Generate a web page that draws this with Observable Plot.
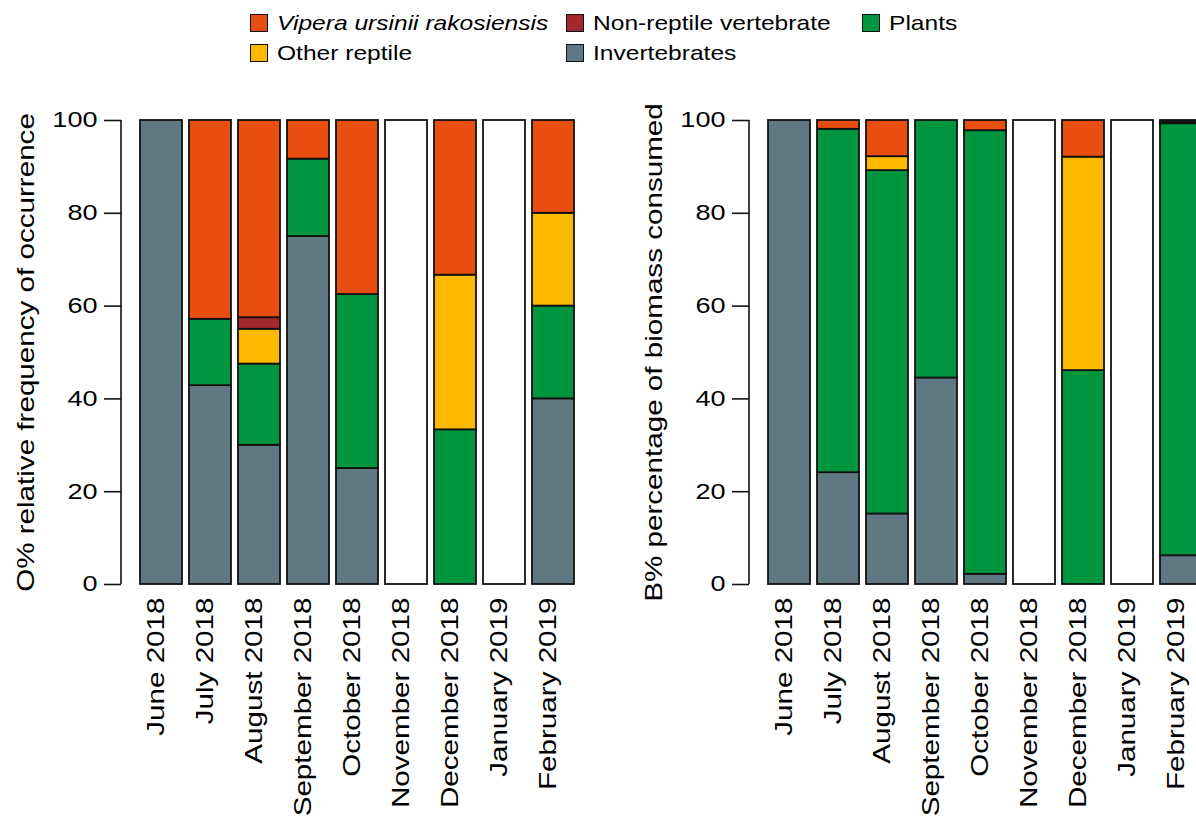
<!DOCTYPE html>
<html>
<head>
<meta charset="utf-8">
<script src="https://cdn.jsdelivr.net/npm/d3@7"></script>
<script src="https://cdn.jsdelivr.net/npm/@observablehq/plot@0.6"></script>
<style>
  html, body { margin: 0; padding: 0; background: #fff; overflow: hidden; }
  #wrap { position: relative; width: 1196px; height: 816px; overflow: hidden; font-family: "Liberation Sans", Arial, sans-serif; color: #000; }
  .panel { position: absolute; top: 0; width: 627px; height: 816px; }
  .panel svg { max-width: none !important; width: 627px !important; height: 816px !important; }
  .legend-item { position: absolute; display: flex; align-items: center; height: 20px; }
  .sw { width: 18px; height: 18px; box-sizing: border-box; border: 1.6px solid #111; flex: none; }
  .lt { font-size: 21px; transform: scaleX(1.17); transform-origin: left center; white-space: nowrap; margin-left: 9px; line-height: 20px; }
</style>
</head>
<body>
<div id="wrap">
  <div id="legend"></div>
  <div id="left" class="panel" style="left:0px"></div>
  <div id="right" class="panel" style="left:627.5px"></div>
</div>
<script>
// ---------- data ----------
const months = ["June 2018", "July 2018", "August 2018", "September 2018", "October 2018",
                "November 2018", "December 2018", "January 2019", "February 2019"];
const categories = ["Invertebrates", "Plants", "Other reptile", "Non-reptile vertebrate", "Vipera ursinii rakosiensis"];
const colors = ["#607882", "#009640", "#FBBA00", "#A3282B", "#E84E0F"];
const legendOrder = ["Vipera ursinii rakosiensis", "Non-reptile vertebrate", "Plants", "Other reptile", "Invertebrates"];
const yTicks = [0, 20, 40, 60, 80, 100];

// O% relative frequency of occurrence
const invertebratesO = [100, 42.86, 30, 75, 25, 0, 0, 0, 40];
const plantsO        = [0, 14.29, 17.5, 16.67, 37.5, 0, 33.33, 0, 20];
const otherReptileO  = [0, 0, 7.5, 0, 0, 0, 33.33, 0, 20];
const nonReptileO    = [0, 0, 2.5, 0, 0, 0, 0, 0, 0];
const viperaO        = [0, 42.86, 42.5, 8.33, 37.5, 0, 33.33, 0, 20];

// B% percentage of biomass consumed
const invertebratesB = [100, 24.1, 15.2, 44.5, 2.2, 0, 0, 0, 6.2];
const plantsB        = [0, 74.0, 74.0, 55.5, 95.6, 0, 46.1, 0, 93.1];
const otherReptileB  = [0, 0, 3.0, 0, 0, 0, 46.0, 0, 0];
const nonReptileB    = [0, 0, 0, 0, 0, 0, 0, 0, 0.4];
const viperaB        = [0, 1.9, 7.8, 0, 2.2, 0, 7.9, 0, 0.3];

const titleO = "O% relative frequency of occurrence";
const titleB = "B% percentage of biomass consumed";

// ---------- helpers ----------
function tidy(series) {
  const rows = [];
  months.forEach((m, i) => {
    categories.forEach((c, k) => {
      const v = series[k][i];
      if (v > 0) rows.push({month: m, category: c, value: v});
    });
  });
  return rows;
}
function emptyMonths(series) {
  return months.filter((m, i) => d3.sum(series, s => s[i]) === 0);
}

function panel(series, title) {
  const rows = tidy(series);
  const empty = emptyMonths(series);
  const axisLine = (index, scales, values, dims) => {
    const l = document.createElementNS("http://www.w3.org/2000/svg", "line");
    l.setAttribute("x1", dims.marginLeft);
    l.setAttribute("x2", dims.marginLeft);
    l.setAttribute("y1", scales.y(0));
    l.setAttribute("y2", scales.y(100));
    l.setAttribute("stroke", "#111");
    l.setAttribute("stroke-width", 1.6);
    return l;
  };
  const svg = Plot.plot({
    width: 627,
    height: 816,
    marginTop: 120,
    marginBottom: 232,
    marginLeft: 121,
    marginRight: 0,
    style: {fontFamily: "'Liberation Sans', Arial, sans-serif", fontSize: "23.5px", background: "transparent", overflow: "visible", color: "#000", maxWidth: "none"},
    x: {type: "band", domain: months, range: [131.75, 582.2], padding: 0.147, axis: null},
    y: {domain: [0, 100], axis: null},
    color: {domain: categories, range: colors},
    marks: [
      Plot.barY(empty, {x: d => d, y: () => 100, fill: "white", stroke: "#111", strokeWidth: 1.8}),
      Plot.barY(rows, {x: "month", y: "value", fill: "category", stroke: "#111", strokeWidth: 1.8}),
      axisLine,
      Plot.axisY({ticks: yTicks, tickSize: 17, tickPadding: 7, fontSize: 21.5, strokeWidth: 1.6, stroke: "#111", label: null}),
      Plot.text(months, {x: d => d, frameAnchor: "bottom", rotate: -90, textAnchor: "end", lineAnchor: "bottom", dy: 13, dx: 2, fontSize: 23.5}),
      Plot.text([title], {text: d => d, frameAnchor: "left", rotate: -90, textAnchor: "middle", lineAnchor: "bottom", dx: -88, fontSize: 23.5})
    ]
  });
  // widen glyphs along the text direction, as in the reference
  svg.querySelectorAll("text").forEach(t => {
    const tr = t.getAttribute("transform") || "";
    t.setAttribute("transform", tr + " scale(1.26,1)");
  });
  return svg;
}

document.getElementById("left").append(panel([invertebratesO, plantsO, otherReptileO, nonReptileO, viperaO], titleO));
document.getElementById("right").append(panel([invertebratesB, plantsB, otherReptileB, nonReptileB, viperaB], titleB));

// ---------- legend ----------
const colLefts = [250, 566, 862];
const rowTops = [13, 43];
const legend = document.getElementById("legend");
legendOrder.forEach((name, i) => {
  const col = i < 3 ? i : i - 3;
  const row = i < 3 ? 0 : 1;
  const item = document.createElement("div");
  item.className = "legend-item";
  item.style.left = colLefts[col] + "px";
  item.style.top = rowTops[row] + "px";
  const sw = document.createElement("div");
  sw.className = "sw";
  sw.style.background = colors[categories.indexOf(name)];
  const lt = document.createElement("span");
  lt.className = "lt";
  lt.textContent = name;
  if (name === "Vipera ursinii rakosiensis") lt.style.fontStyle = "italic";
  item.append(sw, lt);
  legend.append(item);
});
</script>
</body>
</html>
